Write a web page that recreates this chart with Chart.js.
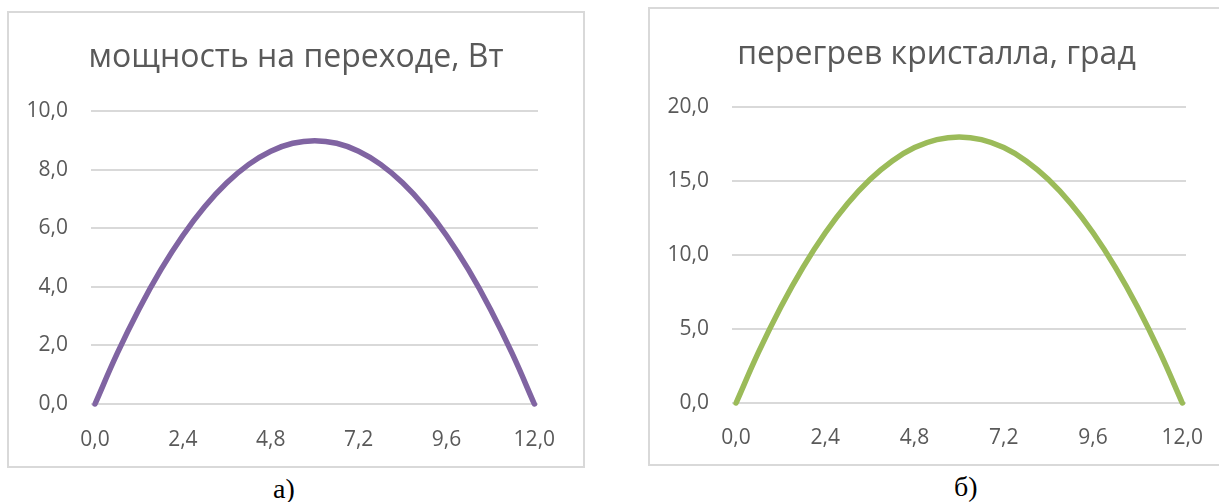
<!DOCTYPE html>
<html>
<head>
<meta charset="utf-8">
<script src="https://cdn.jsdelivr.net/npm/chart.js"></script>
<style>
    body { margin: 0; background: #fff; width: 1219px; height: 502px; overflow: hidden; position: relative; }
    .frame { position: absolute; border: 2px solid #d9d9d9; background: #fff; }
    .frame canvas { display: block; }
    .caption { position: absolute; font-family: "Liberation Serif", serif; font-size: 28px; color: #000; line-height: 1; }
</style>
</head>
<body>
<div class="frame" style="left:7px; top:11px; width:574px; height:453px;">
    <canvas id="powerChart" width="574" height="453"></canvas>
</div>
<div class="frame" style="left:648px; top:7px; width:575px; height:455px;">
    <canvas id="heatChart" width="573" height="455"></canvas>
</div>
<div class="caption" style="left:273px; top:475px;">а)</div>
<div class="caption" style="left:954px; top:473px;">б)</div>

<script>
// values
const xValues = [0, 0.6, 1.2, 1.8, 2.4, 3.0, 3.6, 4.2, 4.8, 5.4, 6.0, 6.6, 7.2, 7.8, 8.4, 9.0, 9.6, 10.2, 10.8, 11.4, 12.0];
const powerValues = [0, 1.71, 3.24, 4.59, 5.76, 6.75, 7.56, 8.19, 8.64, 8.91, 9.0, 8.91, 8.64, 8.19, 7.56, 6.75, 5.76, 4.59, 3.24, 1.71, 0];
const heatValues = [0, 3.42, 6.48, 9.18, 11.52, 13.5, 15.12, 16.38, 17.28, 17.82, 18.0, 17.82, 17.28, 16.38, 15.12, 13.5, 11.52, 9.18, 6.48, 3.42, 0];
const xTicks = [0, 2.4, 4.8, 7.2, 9.6, 12.0];
const powerTicks = [0, 2, 4, 6, 8, 10];
const heatTicks = [0, 5, 10, 15, 20];

const textColor = "#595959";
const gridColor = "#d9d9d9";
const fontFamily = "'Open Sans', 'Noto Sans', sans-serif";

function fmt(v) {
    return Number(v).toFixed(1).replace(".", ",");
}

function makeChart(id, titleText, values, yTicks, color, opts) {
    const ctx = document.getElementById(id).getContext("2d");
    return new Chart(ctx, {
        type: "line",
        data: {
            datasets: [{
                data: xValues.map((x, i) => ({ x: x, y: values[i] })),
                borderColor: color,
                borderWidth: 5.5,
                borderCapStyle: "round",
                pointRadius: 0,
                tension: 0.4,
                fill: false,
                clip: false
            }]
        },
        options: {
            responsive: false,
            animation: false,
            plugins: {
                legend: { display: false },
                tooltip: { enabled: false },
                title: {
                    display: true,
                    text: titleText,
                    color: textColor,
                    font: { family: fontFamily, size: 32, weight: "normal" },
                    padding: { top: opts.titleTop, bottom: opts.titleBottom }
                }
            },
            scales: {
                x: {
                    type: "linear",
                    min: -0.11,
                    max: 12.1,
                    afterBuildTicks: (scale) => { scale.ticks = xTicks.map(v => ({ value: v })); },
                    afterFit: (scale) => { scale.height = opts.xHeight; },
                    grid: { display: false },
                    border: { display: false },
                    ticks: {
                        color: textColor,
                        font: { family: fontFamily, size: 21 },
                        padding: opts.xPad,
                        maxRotation: 0,
                        callback: (v) => fmt(v)
                    }
                },
                y: {
                    min: 0,
                    max: yTicks[yTicks.length - 1],
                    afterBuildTicks: (scale) => { scale.ticks = yTicks.map(v => ({ value: v })); },
                    afterFit: (scale) => { scale.width = 82; },
                    grid: { color: gridColor, lineWidth: 2, drawTicks: false },
                    border: { display: false },
                    ticks: {
                        color: textColor,
                        font: { family: fontFamily, size: 21 },
                        padding: 23,
                        callback: (v) => fmt(v)
                    }
                },
                // empty right margin so the title stays centred on the whole frame
                yRight: {
                    position: "right",
                    min: 0,
                    max: 1,
                    afterFit: (scale) => { scale.width = opts.right; },
                    grid: { display: false },
                    border: { display: false },
                    ticks: { display: false }
                }
            }
        }
    });
}

makeChart("powerChart", "мощность на переходе, Вт", powerValues, powerTicks, "#8064A2",
    { right: 45, xHeight: 62, xPad: 15, titleTop: 26, titleBottom: 34 });
makeChart("heatChart", "перегрев кристалла, град", heatValues, heatTicks, "#9BBB59",
    { right: 37, xHeight: 61, xPad: 14, titleTop: 27, titleBottom: 33 });
</script>
</body>
</html>
